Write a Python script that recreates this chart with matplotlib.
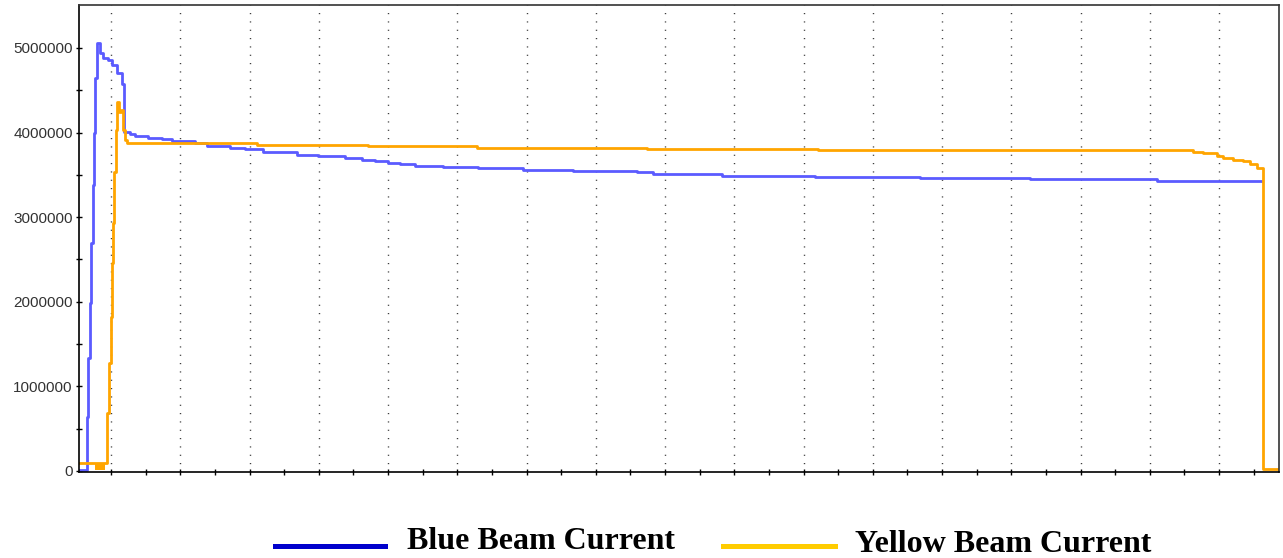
import numpy as np
import matplotlib
matplotlib.use("Agg")
import matplotlib.pyplot as plt
from matplotlib.lines import Line2D

# time axis in tick units, current in millions
blue_t = [-0.92, -0.70, -0.66, -0.61, -0.57, -0.53, -0.49, -0.45, -0.41, -0.32,
          -0.23, -0.09, 0.03, 0.17, 0.32, 0.38, 0.55, 0.69, 1.07, 1.47,
          1.76, 2.43, 2.77, 3.44, 3.87, 4.39, 5.37, 5.98, 6.76, 7.25,
          7.62, 8.00, 8.35, 8.78, 9.59, 10.60, 11.90, 13.34, 15.19, 15.65,
          17.64, 20.33, 23.36, 26.54, 30.20, 33.24]
blue_i = [0.01, 0.64, 1.33, 1.99, 2.69, 3.38, 4.00, 4.64, 5.06, 4.94,
          4.88, 4.86, 4.80, 4.70, 4.58, 4.01, 3.98, 3.96, 3.94, 3.92,
          3.90, 3.88, 3.845, 3.82, 3.80, 3.775, 3.74, 3.72, 3.70, 3.68,
          3.66, 3.64, 3.625, 3.61, 3.59, 3.58, 3.56, 3.54, 3.53, 3.51,
          3.49, 3.475, 3.46, 3.45, 3.43, 3.43]

yellow_t = [-0.92, -0.12, -0.05, -0.01, 0.03, 0.07, 0.10, 0.14, 0.18, 0.24,
            0.29, 0.36, 0.40, 0.46, 1.47, 4.22, 7.42, 10.57, 15.48, 20.42,
            31.24, 31.53, 31.94, 32.11, 32.40, 32.69, 32.89, 33.09, 33.27, 33.73]
yellow_i = [0.10, 0.69, 1.28, 1.82, 2.46, 2.93, 3.53, 4.03, 4.36, 4.24,
            4.27, 4.03, 3.91, 3.88, 3.873, 3.853, 3.84, 3.82, 3.806, 3.794,
            3.775, 3.755, 3.72, 3.70, 3.68, 3.66, 3.625, 3.58, 0.02, 0.02]

# flickering block of the yellow beam right after start
flicker_t = [-0.46, -0.17]
flicker_lo = [0.01, 0.01]
flicker_hi = [0.10, 0.10]

y_ticks = [0, 1000000, 2000000, 3000000, 4000000, 5000000]

fig = plt.figure(figsize=(12.83, 5.58), dpi=100)
ax = fig.add_axes([79 / 1283, 1 - 472 / 558, 1200 / 1283, 467 / 558])

ax.fill_between(flicker_t, np.array(flicker_lo) * 1e6, np.array(flicker_hi) * 1e6,
                color='#FFA500', step='post', linewidth=0)
ax.plot(blue_t, np.array(blue_i) * 1e6, drawstyle='steps-post', color='#5B5BFF', lw=2.0)
ax.plot(yellow_t, np.array(yellow_i) * 1e6, drawstyle='steps-post', color='#FFA500', lw=2.0)

ax.set_xlim(-0.925, 33.73)
ax.set_ylim(-12000, 5508000)

ax.set_xticks(np.arange(0, 34, 2))
ax.set_xticks(np.arange(1, 34, 2), minor=True)
ax.set_xticklabels([])
ax.set_yticks(y_ticks)
ax.set_yticks(np.arange(500000, 5500000, 1000000), minor=True)
ax.set_yticklabels([str(v) for v in y_ticks], fontfamily='Liberation Sans',
                   fontsize=11, color='#333333')

ax.tick_params(which='both', direction='inout', length=5, width=1, color='black', pad=2)
ax.xaxis.grid(True, which='major', color='#333333', linestyle=(0, (0.8, 5.2)), linewidth=1.0)

for s in ax.spines.values():
    s.set_color('#333333')
    s.set_linewidth(1.2)
ax.spines['left'].set_color('black')
ax.spines['bottom'].set_color('black')

# legend below the chart
fig.add_artist(Line2D([275 / 1283, 385 / 1283], [1 - 545.5 / 558] * 2, color='#0000CC', lw=3.6))
fig.add_artist(Line2D([723 / 1283, 835 / 1283], [1 - 545.5 / 558] * 2, color='#FFCC00', lw=3.6))
fig.text(407 / 1283, 1 - 549 / 558, 'Blue Beam Current', fontfamily='Liberation Serif',
         fontweight='bold', fontsize=23, va='baseline')
fig.text(855 / 1283, 1 - 552 / 558, 'Yellow Beam Current', fontfamily='Liberation Serif',
         fontweight='bold', fontsize=23, va='baseline')

fig.savefig('out.png', dpi=100)
